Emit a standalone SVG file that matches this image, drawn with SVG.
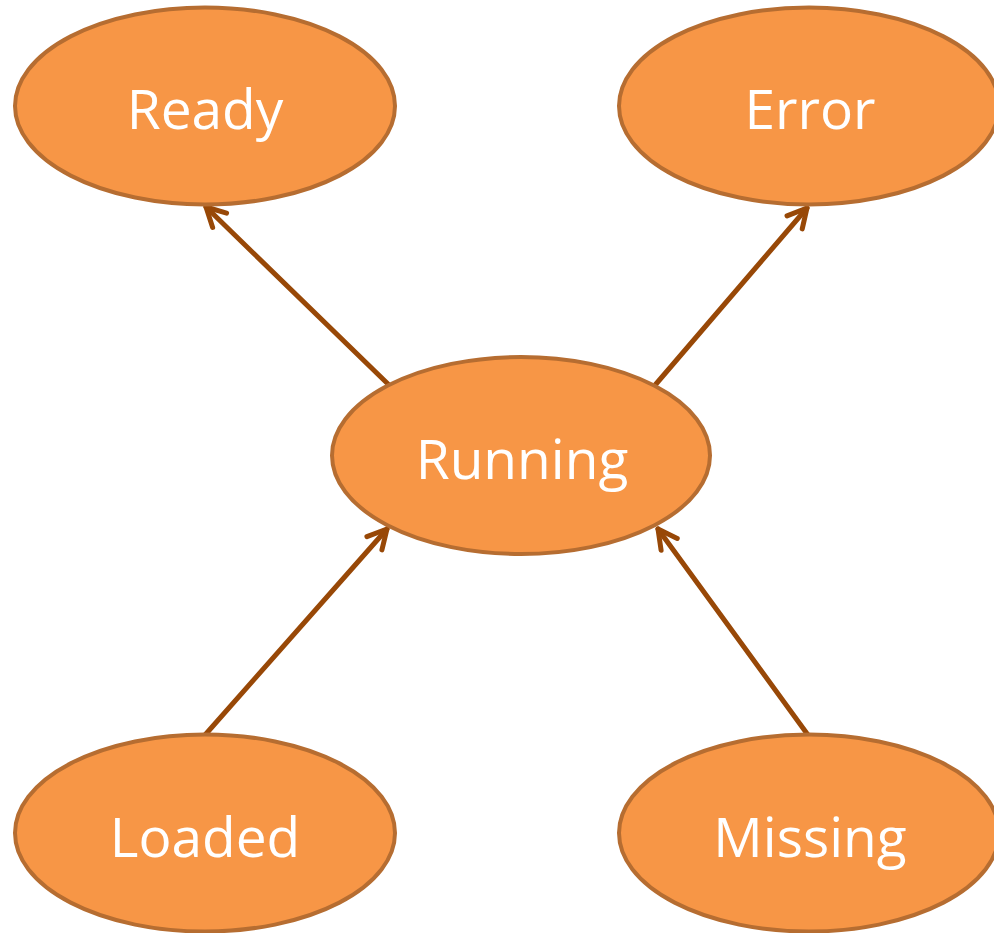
<svg xmlns="http://www.w3.org/2000/svg" width="994" height="933" viewBox="0 0 994 933">
<style>
.node ellipse{fill:#F79646;stroke:#B66D31;stroke-width:4}
.node text{fill:#FFFFFF;font-family:"Open Sans","Noto Sans",sans-serif;font-size:55px;text-anchor:middle}
.conn line{stroke:#984807;stroke-width:5;stroke-linecap:round}
</style>
<defs>
<marker id="arr" markerUnits="userSpaceOnUse" markerWidth="30" markerHeight="30" viewBox="-25 -15 30 30" refX="0" refY="0" orient="auto" overflow="visible">
<path d="M-19,-10 L0,0 L-19,10" fill="none" stroke="#984807" stroke-width="5" stroke-linecap="round" stroke-linejoin="round"/>
</marker>
</defs>
<rect width="994" height="933" fill="#FFFFFF"/>
<g id="connectors" class="conn">
<line x1="388" y1="384" x2="206" y2="207" marker-end="url(#arr)"/>
<line x1="656" y1="384" x2="807" y2="208" marker-end="url(#arr)"/>
<line x1="205" y1="735" x2="387" y2="529" marker-end="url(#arr)"/>
<line x1="808" y1="735" x2="658" y2="529" marker-end="url(#arr)"/>
</g>
<g id="ready" class="node"><ellipse cx="205" cy="106" rx="190" ry="98.5"/><text x="205" y="129">Ready</text></g>
<g id="error" class="node"><ellipse cx="809" cy="106" rx="190" ry="98.5"/><text x="810" y="129">Error</text></g>
<g id="running" class="node"><ellipse cx="521" cy="455.5" rx="189" ry="98.5"/><text x="522" y="479">Running</text></g>
<g id="loaded" class="node"><ellipse cx="205" cy="833" rx="190" ry="98.5"/><text x="205" y="857">Loaded</text></g>
<g id="missing" class="node"><ellipse cx="809" cy="833" rx="190" ry="98.5"/><text x="810" y="857">Missing</text></g>
</svg>
